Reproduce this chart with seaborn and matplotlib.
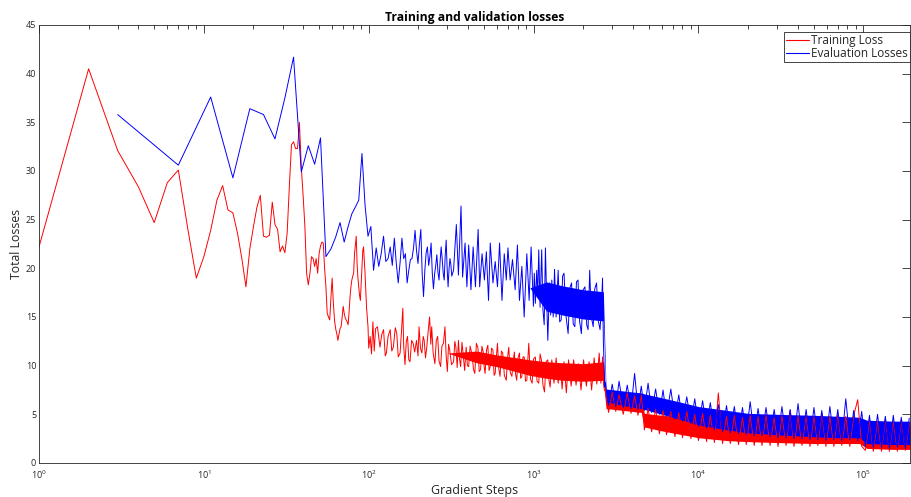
import pandas as pd
import seaborn as sns
import matplotlib.pyplot as plt

sns.set_theme(style='white')
plt.rcParams['font.family'] = ['Open Sans', 'DejaVu Sans']
plt.rcParams['mathtext.default'] = 'regular'

# training loss, logged every step early on, then sampled points along the noisy band
train_steps = [
    1, 2, 3, 4, 5, 6, 7, 8, 9, 10,
    11, 12, 13, 14, 15, 16, 17, 18, 19, 20,
    21, 22, 23, 24, 25, 26, 27, 28, 29, 30,
    31, 32, 33, 34, 35, 36, 37, 38, 39, 40,
    41, 42, 43, 44, 45, 46, 47, 48, 49, 50,
    51, 52, 53, 54, 55, 56, 57, 58, 59, 60,
    61, 62, 63, 64, 65, 66, 67, 68, 69, 70,
    71, 72, 73, 74, 75, 76, 77, 78, 79, 80,
    81, 82, 83, 84, 85, 86, 87, 88, 89, 90,
    91, 92, 93, 94, 95, 96, 97, 98, 99,
    100, 102, 104, 106, 108, 110, 113, 117, 120, 123,
    126, 128, 131, 135, 138, 141, 145, 148, 151, 155,
    158, 161, 163, 166, 169, 172, 175, 178, 182, 186,
    190, 195, 199, 202, 206, 210, 214, 217, 221, 225,
    229, 234, 238, 241, 246, 252, 257, 262, 267, 273,
    278, 284, 290, 295, 300, 305, 310, 318, 327, 333,
    338, 344, 350, 356, 361, 368, 375, 382, 390, 397,
    404, 412, 424, 432, 440, 450, 460, 468, 477, 486,
    496, 502, 508, 518, 528, 537, 546, 556, 567, 576,
    585, 595, 604, 615, 626, 638, 650, 665, 683, 695,
    707, 722, 739, 752, 765, 778, 790, 805, 821, 835,
    849, 862, 877, 893, 910, 922, 935, 958, 980, 1000,
    1025, 1050, 1075, 1095, 1115, 1140, 1165, 1190, 1220, 1240,
    1260, 1290, 1330, 1370, 1410, 1450, 1490, 1530, 1580, 1630,
    1690, 1750, 1810, 1870, 1940, 2010, 2090, 2170, 2250, 2330,
    2420, 2500, 2560, 2620, 2660, 2690,
    2720, 2850, 3000, 3150, 3300, 3500, 3700, 3900, 4100, 4300,
    4500, 4700, 4950, 5200, 5500, 5800, 6100, 6400, 6800, 7200,
    7600, 8000, 8500, 9000, 9500, 10000, 10600, 11200, 11800, 12500,
    13200, 14000, 14800, 15600, 16500, 17500, 18500, 19500, 20600, 21800,
    23000, 24300, 25700, 27200, 28800, 30400, 32100, 34000, 36000, 38000,
    40200, 42500, 45000, 47500, 50200, 53000, 56000, 59300, 62700, 66300,
    70000, 74000, 78300, 82800, 87500, 92500, 97800, 103000, 109000, 115000,
    122000, 129000, 136000, 144000, 152000, 161000, 170000, 180000, 190000,
]
train_loss = [
    22.2, 40.5, 32.1, 28.4, 24.7, 28.8, 30.1, 24.0, 19.0, 21.2,
    23.9, 27.0, 28.5, 26.0, 25.7, 23.6, 21.0, 18.1, 22.0, 24.3,
    26.3, 27.5, 23.3, 23.2, 23.4, 26.8, 24.5, 24.0, 21.7, 22.3,
    21.6, 23.6, 28.4, 32.7, 33.0, 32.3, 32.3, 35.0, 30.4, 27.5,
    24.3, 19.5, 18.3, 19.5, 21.2, 21.0, 20.2, 21.0, 19.5, 21.5,
    22.3, 22.7, 22.6, 20.0, 18.1, 15.4, 15.0, 14.7, 17.0, 19.0,
    16.5, 14.7, 13.8, 13.3, 12.6, 13.2, 13.8, 14.0, 15.0, 16.1,
    15.4, 14.9, 14.7, 14.5, 14.2, 15.5, 17.0, 18.1, 18.8, 19.2,
    19.5, 21.5, 22.4, 23.3, 20.5, 19.0, 18.1, 17.2, 16.7, 18.5,
    20.5, 21.8, 22.2, 20.8, 19.5, 17.8, 16.0, 15.0, 14.0,
    11.8, 13.0, 11.2, 14.5, 11.5, 13.8, 14.0, 11.9, 13.2, 13.7,
    11.0, 11.3, 13.0, 13.7, 11.5, 11.9, 13.9, 13.3, 10.9, 11.3,
    13.5, 15.9, 12.0, 10.1, 12.5, 13.0, 10.6, 10.4, 12.6, 12.3,
    11.4, 12.6, 11.0, 14.0, 11.8, 11.3, 13.0, 12.6, 10.8, 11.9,
    13.4, 15.0, 12.2, 14.0, 11.3, 10.2, 12.6, 13.0, 10.5, 9.9,
    12.0, 12.3, 14.0, 11.0, 9.4, 12.2, 11.6, 10.1, 10.4, 12.5,
    11.9, 9.8, 12.6, 10.6, 9.9, 12.4, 10.9, 9.5, 11.9, 10.0,
    9.9, 12.0, 11.1, 9.6, 9.2, 12.3, 11.8, 9.4, 9.6, 12.0,
    11.3, 9.8, 9.2, 11.6, 12.1, 9.5, 9.9, 11.8, 11.6, 9.0,
    9.2, 11.0, 12.3, 9.7, 8.9, 11.5, 11.3, 9.0, 8.5, 10.8,
    11.9, 9.3, 8.9, 10.5, 11.4, 9.1, 8.5, 10.8, 11.3, 8.7,
    8.9, 10.9, 10.9, 8.4, 8.5, 10.5, 12.3, 8.6, 8.2, 10.7,
    10.9, 8.4, 8.2, 11.2, 10.6, 8.0, 7.3, 10.4, 10.6, 8.5,
    7.8, 10.6, 8.2, 10.8, 8.2, 10.2, 7.6, 10.4, 7.2, 10.6,
    7.9, 10.6, 8.0, 10.2, 7.5, 10.6, 7.9, 10.4, 7.5, 10.8,
    8.1, 11.3, 8.2, 10.9, 8.0, 7.5,
    7.4, 5.2, 7.3, 5.3, 7.0, 5.0, 7.2, 5.1, 6.9, 4.9,
    7.0, 3.4, 5.6, 3.2, 5.5, 3.0, 5.4, 2.9, 5.3, 2.7,
    5.2, 2.6, 5.3, 2.5, 5.0, 2.3, 5.1, 2.2, 4.9, 2.1,
    7.2, 2.0, 4.8, 2.0, 4.9, 1.9, 4.7, 1.9, 4.9, 1.8,
    4.8, 1.8, 5.0, 1.8, 4.7, 1.7, 4.9, 1.8, 5.4, 1.7,
    4.8, 1.8, 4.9, 1.7, 4.8, 1.8, 5.1, 1.7, 4.8, 1.7,
    5.0, 1.8, 4.8, 1.7, 4.9, 6.5, 1.7, 1.3, 4.4, 1.2,
    4.3, 1.2, 4.5, 1.2, 4.3, 1.2, 4.4, 1.3, 4.1,
]

# evaluation loss, every 4 steps early on
eval_steps = [
    3, 7, 11, 15, 19, 23, 27, 31, 35, 39,
    43, 47, 51, 55, 59, 63, 67, 71, 75, 79,
    83, 87, 91, 95, 99, 103, 107, 111, 115, 119,
    123, 127, 131, 135, 139, 143, 147, 151, 155, 159,
    163, 167, 171, 175, 179, 183, 187, 191, 195, 199,
    203, 207, 211, 215, 219, 223, 227, 231, 235, 239,
    243, 247, 251, 255, 259, 263, 267, 271, 275, 279,
    283, 287, 291, 295, 299, 303, 307, 311, 315, 319,
    327, 340, 350, 363, 371, 384, 394, 404, 417, 430,
    444, 461, 471, 487, 503, 517, 533, 546, 567, 585,
    604, 622, 643, 664, 683, 699, 721, 745, 773, 798,
    821, 849, 877, 910, 940, 966, 998, 1010, 1025, 1045,
    1060, 1075, 1095, 1120, 1140, 1160, 1180, 1200, 1220, 1250,
    1270, 1290, 1315, 1340, 1370, 1410, 1440, 1470, 1500, 1530,
    1570, 1620, 1660, 1700, 1740, 1780, 1820, 1860, 1900, 1950,
    2000, 2050, 2100, 2140, 2190, 2240, 2300, 2350, 2410, 2470,
    2530, 2590, 2620, 2650, 2680, 2700,
    2720, 2850, 3000, 3150, 3300, 3500, 3700, 3900, 4100, 4300,
    4500, 4700, 4950, 5200, 5500, 5800, 6100, 6400, 6800, 7200,
    7600, 8000, 8500, 9000, 9500, 10000, 10600, 11200, 11800, 12500,
    13200, 14000, 14800, 15600, 16500, 17500, 18500, 19500, 20600, 21800,
    23000, 24300, 25700, 27200, 28800, 30400, 32100, 34000, 36000, 38000,
    40200, 42500, 45000, 47500, 50200, 53000, 56000, 59300, 62700, 66300,
    70000, 74000, 78300, 82800, 87500, 92500, 97800, 103000, 109000, 115000,
    122000, 129000, 136000, 144000, 152000, 161000, 170000, 180000, 190000,
]
eval_loss = [
    35.8, 30.6, 37.6, 29.3, 36.4, 35.8, 33.3, 37.5, 41.7, 29.9,
    32.6, 30.7, 33.4, 21.2, 22.0, 23.2, 24.7, 22.7, 24.3, 25.6,
    26.3, 27.0, 31.8, 26.5, 23.3, 24.3, 19.8, 22.1, 20.2, 21.5,
    23.3, 20.7, 21.0, 22.2, 20.3, 23.1, 20.5, 18.5, 20.6, 23.1,
    21.0, 21.5, 18.5, 19.8, 20.9, 21.0, 22.1, 23.9, 21.8, 20.5,
    22.5, 24.0, 19.5, 17.1, 19.8, 21.6, 22.2, 20.3, 21.2, 22.6,
    19.5, 17.9, 19.4, 20.3, 21.4, 19.6, 18.8, 20.7, 22.2, 21.0,
    19.5, 18.8, 21.3, 22.9, 20.0, 18.1, 19.9, 21.0, 20.4, 19.2,
    19.8, 24.5, 19.3, 26.4, 19.1, 22.6, 18.1, 22.4, 17.8, 22.2,
    18.1, 24.0, 18.1, 21.5, 18.8, 21.7, 16.7, 22.6, 18.5, 20.7,
    18.1, 22.6, 16.7, 21.5, 18.8, 22.1, 18.8, 20.9, 17.8, 22.4,
    16.7, 20.2, 15.0, 21.5, 16.7, 22.2, 16.1, 19.5, 16.4, 19.8,
    17.2, 21.9, 16.0, 21.9, 15.7, 14.2, 22.1, 17.0, 12.6, 18.5,
    15.2, 18.8, 15.0, 19.9, 15.0, 19.8, 14.5, 14.7, 19.2, 19.5,
    15.2, 13.3, 18.0, 18.5, 14.3, 14.0, 18.6, 18.8, 14.6, 13.3,
    17.8, 18.1, 14.2, 13.7, 19.8, 15.0, 14.0, 17.9, 18.5, 14.6,
    13.7, 16.7, 19.0, 12.6, 9.6, 7.8,
    8.3, 5.9, 8.1, 5.8, 8.4, 5.7, 8.0, 5.6, 9.2, 5.5,
    7.9, 5.4, 8.2, 5.2, 7.6, 5.0, 7.5, 4.8, 7.6, 4.5,
    7.0, 4.3, 6.8, 4.1, 6.6, 3.8, 6.4, 3.6, 6.2, 3.4,
    6.0, 3.2, 5.9, 3.1, 5.8, 3.0, 5.7, 2.9, 6.3, 2.8,
    5.6, 2.8, 5.7, 2.7, 5.5, 2.6, 5.8, 2.6, 5.5, 2.5,
    6.1, 2.5, 5.5, 2.4, 5.7, 2.4, 5.4, 2.3, 5.8, 2.4,
    5.5, 2.3, 6.6, 2.4, 5.4, 2.3, 5.3, 1.7, 4.9, 1.6,
    5.0, 1.6, 4.8, 1.5, 4.9, 1.6, 4.7, 1.5, 4.6,
]

# core of the dense noise bands (where the plotted lines merge into solid colour)
band_steps = [300, 450, 600, 950, 1200, 1500, 2000, 2650, 2750, 3500, 4500, 4700, 6000,
              8000, 10000, 15000, 20000, 30000, 50000, 70000, 95000, 105000, 150000, 192000]
train_band_lo = [11.3, 10.3, 9.9, 9.0, 8.7, 8.5, 8.4, 8.5, 5.6, 5.4, 5.2, 3.7, 3.3,
                 2.9, 2.6, 2.3, 2.2, 2.1, 2.0, 2.0, 2.0, 1.5, 1.4, 1.4]
train_band_hi = [11.3, 11.5, 11.1, 10.6, 10.4, 10.3, 10.2, 10.4, 6.9, 6.7, 6.5, 5.1, 4.9,
                 4.7, 4.5, 4.3, 4.2, 4.2, 4.1, 4.1, 4.0, 3.9, 3.8, 3.8]
eval_band_lo = [20.5, 20.0, 19.5, 18.0, 15.6, 15.2, 14.8, 14.6, 6.3, 5.9, 5.6, 5.5, 5.0,
                4.4, 3.9, 3.4, 3.1, 2.9, 2.7, 2.6, 2.6, 2.0, 1.9, 1.9]
eval_band_hi = [20.5, 20.0, 19.5, 18.0, 18.6, 18.2, 17.8, 17.6, 7.6, 7.4, 7.2, 7.1, 6.7,
                6.2, 5.8, 5.4, 5.1, 5.0, 4.9, 4.8, 4.7, 4.4, 4.3, 4.3]

Y_TICKS = [0, 5, 10, 15, 20, 25, 30, 35, 40, 45]
TEXT = '#262626'


def main():
    train_df = pd.DataFrame({'step': train_steps, 'loss': train_loss})
    eval_df = pd.DataFrame({'step': eval_steps, 'loss': eval_loss})

    fig = plt.figure(figsize=(9.11, 4.97), dpi=100)
    ax = fig.add_axes([39 / 911, 34 / 497, 871 / 911, 438 / 497])

    ax.fill_between(band_steps, train_band_lo, train_band_hi, color='#ff0000', lw=0)
    sns.lineplot(data=train_df, x='step', y='loss', color='#ff0000', lw=0.7,
                 estimator=None, sort=False, label='Training Loss', ax=ax)
    ax.fill_between(band_steps, eval_band_lo, eval_band_hi, color='#0000ff', lw=0)
    sns.lineplot(data=eval_df, x='step', y='loss', color='#0000ff', lw=0.7,
                 estimator=None, sort=False, label='Evaluation Losses', ax=ax)

    ax.set_xscale('log')
    ax.set_xlim(1, 1.92e5)
    ax.set_ylim(0, 45)
    ax.set_yticks(Y_TICKS)

    ax.set_title('Training and validation losses', fontsize=8.7, fontweight='bold',
                 color='black', pad=3)
    ax.set_xlabel('Gradient Steps', fontsize=9, color=TEXT, labelpad=2)
    ax.set_ylabel('Total Losses', fontsize=8.8, color=TEXT, labelpad=2)

    for side in ax.spines.values():
        side.set_visible(True)
        side.set_color(TEXT)
        side.set_linewidth(0.6)
    ax.tick_params(which='both', direction='in', top=True, right=True,
                   colors=TEXT, labelsize=6.5, width=0.6)
    ax.tick_params(axis='y', pad=2)
    ax.tick_params(axis='x', pad=4)
    ax.tick_params(which='major', length=6)
    ax.tick_params(which='minor', length=3)
    ax.grid(False)

    leg = ax.legend(loc='upper right', bbox_to_anchor=(1.0, 0.984), borderaxespad=0,
                    fancybox=False, framealpha=1, edgecolor=TEXT, fontsize=8.5,
                    handlelength=2.0, handletextpad=0.2, borderpad=0.15,
                    labelspacing=0.05)
    leg.get_frame().set_linewidth(0.6)
    for line in leg.get_lines():
        line.set_linewidth(0.8)

    fig.savefig('out.png', dpi=100)


if __name__ == '__main__':
    main()
